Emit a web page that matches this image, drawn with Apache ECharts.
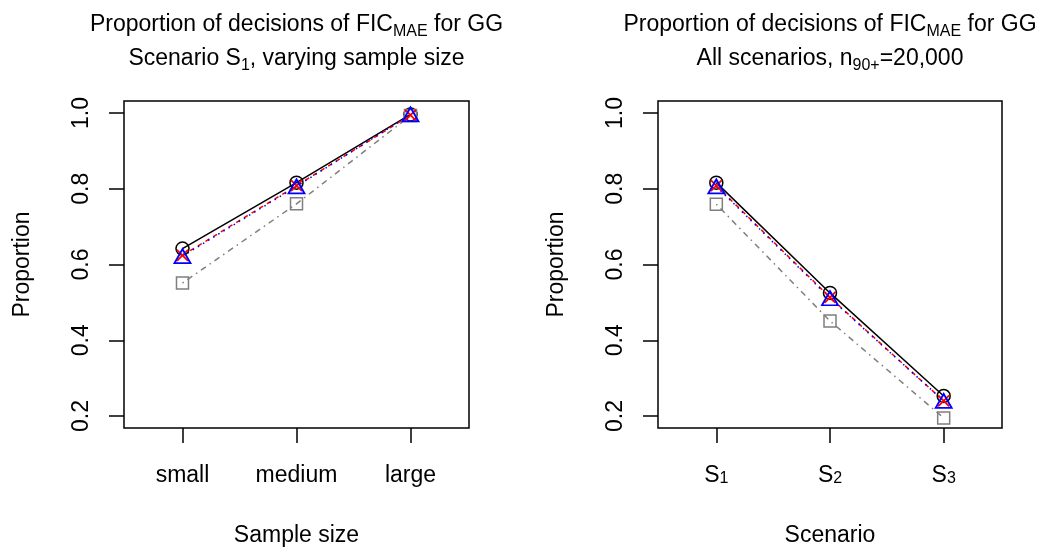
<!DOCTYPE html>
<html>
<head>
<meta charset="utf-8">
<script src="https://cdn.jsdelivr.net/npm/echarts@6/dist/echarts.min.js"></script>
<style>html,body{margin:0;padding:0;background:#fff}#c{width:1042px;height:552px}</style>
</head>
<body>
<div id="c"></div>
<script>
// ---- data ----
const sizeCategories = ['small', 'medium', 'large'];
const scenarioCategories = ['1', '2', '3']; // S subscripts
const yTicks = [0.2, 0.4, 0.6, 0.8, 1.0];

// Left panel: Scenario S1, varying sample size
const leftCircle   = [0.642, 0.816, 0.996];
const leftCross    = [0.624, 0.808, 0.994];
const leftTriangle = [0.622, 0.806, 0.996];
const leftSquare   = [0.551, 0.760, 0.993];

// Right panel: all scenarios, n90+ = 20,000
const rightCircle   = [0.816, 0.525, 0.253];
const rightCross    = [0.808, 0.513, 0.240];
const rightTriangle = [0.806, 0.511, 0.240];
const rightSquare   = [0.759, 0.451, 0.195];

const FONT = '"Liberation Sans", Arial, Helvetica, sans-serif';
const FS = 23;
const subRich = { sub: { fontSize: 16, lineHeight: 16, verticalAlign: 'bottom', fontFamily: FONT, color: '#000' } };
const subRichAxis = { sub: { fontSize: 16, lineHeight: 9, verticalAlign: 'bottom', fontFamily: FONT, color: '#000' } };

function pts(arr) { return arr.map((v, i) => [i + 1, v]); }

function titleItem(text, cx, top) {
  return {
    text: text, left: cx, top: top, textAlign: 'center', padding: 0,
    textStyle: { fontSize: FS, fontWeight: 'normal', color: '#000', fontFamily: FONT, lineHeight: 30, rich: subRich }
  };
}

function xAxisItem(gi, name, formatter) {
  return {
    type: 'value', gridIndex: gi, min: 0.487, max: 3.513,
    name: name, nameLocation: 'middle', nameGap: 96,
    nameTextStyle: { fontSize: FS, color: '#000', fontFamily: FONT },
    axisLine: { show: false },
    splitLine: { show: false },
    axisTick: { show: true, inside: false, length: 15, lineStyle: { color: '#000', width: 1.5 }, customValues: [1, 2, 3] },
    axisLabel: { show: true, margin: 36, fontSize: FS, lineHeight: 23, color: '#000', fontFamily: FONT,
      customValues: [1, 2, 3], formatter: formatter, rich: subRichAxis }
  };
}

function yAxisItem(gi) {
  return {
    type: 'value', gridIndex: gi, min: 0.1685, max: 1.0315,
    name: 'Proportion', nameLocation: 'middle', nameGap: 90,
    nameTextStyle: { fontSize: FS, color: '#000', fontFamily: FONT },
    axisLine: { show: false },
    splitLine: { show: false },
    axisTick: { show: true, inside: false, length: 15, lineStyle: { color: '#000', width: 1.5 }, customValues: yTicks },
    axisLabel: { show: true, rotate: 90, margin: 31, fontSize: FS, color: '#000', fontFamily: FONT,
      customValues: yTicks, formatter: v => v.toFixed(1) }
  };
}

const crossPath = 'path://M0,0L10,10M10,0L0,10';

function seriesSet(gi, circle, cross, triangle, square) {
  const base = { type: 'line', xAxisIndex: gi, yAxisIndex: gi, silent: true, animation: false, showSymbol: true };
  return [
    Object.assign({}, base, { data: pts(circle), symbol: 'circle', symbolSize: 13,
      lineStyle: { color: '#000', width: 1.5, type: 'solid' },
      itemStyle: { color: 'rgba(0,0,0,0)', borderColor: '#000', borderWidth: 1.5 } }),
    Object.assign({}, base, { data: pts(square), symbol: 'rect', symbolSize: 12,
      lineStyle: { color: '#7f7f7f', width: 1.5, type: [1.5, 4.5, 6, 4.5] },
      itemStyle: { color: 'rgba(0,0,0,0)', borderColor: '#7f7f7f', borderWidth: 1.5 } }),
    Object.assign({}, base, { data: pts(cross), symbol: crossPath, symbolSize: 11,
      lineStyle: { color: '#ff0000', width: 1.5, type: [4.5, 4.5] },
      itemStyle: { color: 'rgba(0,0,0,0)', borderColor: '#ff0000', borderWidth: 1.8 } }),
    Object.assign({}, base, { data: pts(triangle), symbol: 'triangle', symbolSize: [16, 14],
      lineStyle: { color: '#0000ff', width: 1.5, type: [1.5, 4.5] },
      itemStyle: { color: 'rgba(0,0,0,0)', borderColor: '#0000ff', borderWidth: 1.8 } })
  ];
}

const chart = echarts.init(document.getElementById('c'), null, { renderer: 'canvas' });
chart.setOption({
  animation: false,
  backgroundColor: '#fff',
  title: [
    titleItem('Proportion of decisions of FIC{sub|MAE} for GG', 296.5, 10),
    titleItem('Scenario S{sub|1}, varying sample size', 296.5, 44),
    titleItem('Proportion of decisions of FIC{sub|MAE} for GG', 830, 10),
    titleItem('All scenarios, n{sub|90+}=20,000', 830, 44)
  ],
  grid: [
    { left: 124, top: 101, width: 345, height: 329, show: true, borderColor: '#000', borderWidth: 1.5, backgroundColor: 'transparent' },
    { left: 658, top: 101, width: 344, height: 329, show: true, borderColor: '#000', borderWidth: 1.5, backgroundColor: 'transparent' }
  ],
  xAxis: [
    xAxisItem(0, 'Sample size', v => sizeCategories[Math.round(v) - 1]),
    xAxisItem(1, 'Scenario', v => 'S{sub|' + scenarioCategories[Math.round(v) - 1] + '}')
  ],
  yAxis: [yAxisItem(0), yAxisItem(1)],
  series: [].concat(
    seriesSet(0, leftCircle, leftCross, leftTriangle, leftSquare),
    seriesSet(1, rightCircle, rightCross, rightTriangle, rightSquare)
  )
});
</script>
</body>
</html>
